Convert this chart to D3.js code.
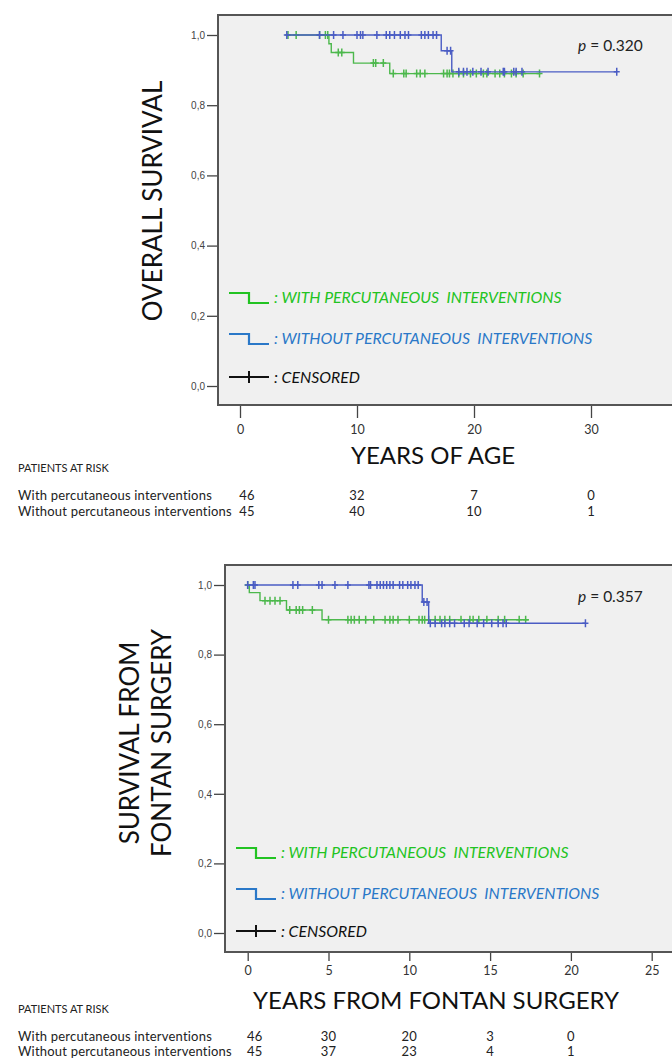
<!DOCTYPE html>
<html>
<head>
<meta charset="UTF-8">
<title>Survival curves</title>
<script src="https://cdn.jsdelivr.net/npm/d3@7"></script>
<style>
    body { margin: 0; background: #fff; }
    svg text { font-family: Lato, "Open Sans", sans-serif; }
    .ytick text { font-family: "Liberation Sans", Arial, sans-serif; font-size: 10px; fill: #444; }
    .xtick text { font-size: 12.5px; fill: #333; }
    .axis path { display: none; }
    .axis line { stroke: #444; stroke-width: 1.3px; }
    .curve { fill: none; stroke-width: 1.4px; }
    .legend-text { font-style: italic; font-size: 15.8px; white-space: pre; }
    .risk { font-size: 13px; fill: #222; letter-spacing: 0.2px; }
</style>
</head>
<body>
<svg id="chart" width="672" height="1062"></svg>
<script>
// ---- chart 1: years of age ----
const ageWithStepT = [4.0, 7.6, 7.8, 9.7, 12.8];
const ageWithStepS = [1.0, 0.975, 0.95, 0.92, 0.89];
const ageWithEnd = 25.7;
const ageWithCens = [4.1, 4.8, 6.8, 7.3, 7.5, 8.4, 8.7, 11.4, 11.6, 12.25, 13.1, 14.0, 14.2, 15.1, 15.4, 15.8,
    17.4, 17.7, 17.9, 18.2, 18.7, 19.1, 19.7, 20.2, 20.8, 21.1, 21.8, 22.2, 22.6, 23.2, 23.6, 24.2, 25.6];

const ageWithoutStepT = [4.0, 17.2, 18.1];
const ageWithoutStepS = [1.0, 0.955, 0.895];
const ageWithoutEnd = 32.2;
const ageWithoutCens = [4.0, 6.8, 8.0, 8.8, 10.0, 10.3, 10.5, 11.7, 12.5, 12.8, 13.2, 13.7, 14.1, 14.4, 15.5,
    15.8, 16.1, 16.5, 16.8, 17.7, 18.0, 18.7, 19.1, 19.4, 19.9, 20.6, 21.2, 22.5, 22.6, 23.4, 23.6, 24.1, 32.2];

const ageTicks = [0, 10, 20, 30];
const ageRiskWith = [46, 32, 7, 0];
const ageRiskWithout = [45, 40, 10, 1];

// ---- chart 2: years from fontan surgery ----
const fonWithStepT = [0, 0.1, 0.76, 2.4, 4.6];
const fonWithStepS = [1.0, 0.978, 0.955, 0.928, 0.90];
const fonWithEnd = 17.4;
const fonWithCens = [0.0, 1.07, 1.38, 1.69, 2.0, 2.6, 3.0, 3.2, 3.4, 4.0, 5.0, 6.2, 6.4, 6.6, 6.9, 7.3, 7.8, 8.5,
    8.8, 9.0, 9.3, 10.0, 10.6, 10.8, 10.95, 11.2, 11.6, 11.9, 12.2, 12.5, 13.2, 13.75, 13.95, 14.3, 14.8, 15.5,
    15.9, 16.8, 17.2];

const fonWithoutStepT = [0, 10.8, 11.2];
const fonWithoutStepS = [1.0, 0.951, 0.89];
const fonWithoutEnd = 20.9;
const fonWithoutCens = [0.0, 0.35, 0.45, 2.8, 3.1, 4.4, 4.6, 5.4, 6.2, 7.5, 7.6, 8.0, 8.2, 8.4, 8.6, 8.8, 9.0, 9.4,
    9.6, 9.9, 10.1, 10.35, 10.55, 10.9, 11.1, 11.3, 11.6, 12.0, 12.2, 12.5, 12.8, 13.4, 13.7, 14.2, 14.6, 15.1,
    15.5, 15.8, 16.0, 20.9];

const fonTicks = [0, 5, 10, 15, 20, 25];
const fonRiskWith = [46, 30, 20, 3, 0];
const fonRiskWithout = [45, 37, 23, 4, 1];

const yTicks = [0, 0.2, 0.4, 0.6, 0.8, 1.0];

const greenCurve = '#4cb84c';
const blueCurve = '#4a5cc4';
const greenText = '#22c322';
const blueText = '#2a78c8';

const svg = d3.select('#chart');

function stepValue(ts, ss, t) {
    let v = ss[0];
    ts.forEach((d, i) => { if (d <= t) v = ss[i]; });
    return v;
}

function stepPoints(ts, ss, end) {
    const pts = [];
    ts.forEach((t, i) => pts.push([t, ss[i]]));
    pts.push([end, ss[ss.length - 1]]);
    return pts;
}

function drawChart(c) {
    const g = svg.append('g');
    const x = d3.scaleLinear().domain([0, c.ticks[c.ticks.length - 1]]).range(c.xRange);
    const y = d3.scaleLinear().domain([0, 1]).range(c.yRange);

    // plot box
    g.append('rect')
        .attr('x', c.box[0]).attr('y', c.box[1])
        .attr('width', c.box[2] - c.box[0]).attr('height', c.box[3] - c.box[1])
        .attr('fill', '#f0f0f0')
        .attr('stroke', '#555')
        .attr('stroke-width', 2);

    g.append('g')
        .attr('class', 'axis ytick')
        .attr('transform', `translate(${c.box[0] - 1},0)`)
        .call(d3.axisLeft(y).tickValues(yTicks).tickSize(10).tickPadding(2)
            .tickFormat(d => d.toFixed(1).replace('.', ',')));

    g.append('g')
        .attr('class', 'axis xtick')
        .attr('transform', `translate(0,${c.box[3] + 1})`)
        .call(d3.axisBottom(x).tickValues(c.ticks).tickSize(c.xTickSize).tickPadding(c.xTickPad)
            .tickFormat(d3.format('d')));

    const line = d3.line()
        .x(d => x(d[0]))
        .y(d => y(d[1]))
        .curve(d3.curveStepAfter);

    c.series.forEach(s => {
        g.append('path')
            .attr('class', 'curve')
            .attr('stroke', s.color)
            .attr('d', line(stepPoints(s.t, s.s, s.end)));

        const cens = g.append('g').attr('stroke', s.color).attr('stroke-width', 1.5);
        cens.selectAll('.cv')
            .data(s.cens)
            .join('path')
            .attr('d', d => {
                const px = x(d), py = y(stepValue(s.t, s.s, d));
                return `M${px},${py - 4}V${py + 4}M${px - 3},${py}H${px + 3}`;
            });
    });

    // p value
    const p = g.append('text')
        .attr('x', 578).attr('y', c.pY)
        .attr('font-size', 15.5).attr('fill', '#222');
    p.append('tspan').attr('font-style', 'italic').text('p');
    p.append('tspan').text(' = ' + c.pValue);

    // legend
    const lx = c.legendX;
    const items = [
        { label: ': WITH PERCUTANEOUS  INTERVENTIONS', color: greenText, y: c.legendY[0] },
        { label: ': WITHOUT PERCUTANEOUS  INTERVENTIONS', color: blueText, y: c.legendY[1] },
        { label: ': CENSORED', color: '#111', y: c.legendY[2] }
    ];
    items.forEach((it, i) => {
        if (i < 2) {
            g.append('path')
                .attr('d', `M${lx},${it.y - 10}H${lx + 20}V${it.y}H${lx + 40}`)
                .attr('fill', 'none')
                .attr('stroke', it.color)
                .attr('stroke-width', 2.2);
        } else {
            g.append('path')
                .attr('d', `M${lx},${it.y - 6}H${lx + 40}M${lx + 20},${it.y - 12}V${it.y}`)
                .attr('fill', 'none')
                .attr('stroke', it.color)
                .attr('stroke-width', 2);
        }
        g.append('text')
            .attr('class', 'legend-text')
            .attr('x', lx + 45).attr('y', it.y)
            .attr('fill', it.color)
            .text(it.label);
    });

    // y title
    const yt = g.append('text')
        .attr('transform', `translate(${c.yTitleX},${c.yTitleY}) rotate(-90)`)
        .attr('text-anchor', 'middle')
        .attr('font-size', 26)
        .attr('fill', '#111');
    c.yTitle.forEach((t, i) => {
        yt.append('tspan').attr('x', 0).attr('dy', i === 0 ? 0 : 32).text(t);
    });

    // x title
    g.append('text')
        .attr('x', c.xTitleX).attr('y', c.xTitleY)
        .attr('text-anchor', 'middle')
        .attr('font-size', 24)
        .attr('fill', '#111')
        .text(c.xTitle);

    // patients at risk
    g.append('text')
        .attr('x', 18).attr('y', c.riskY[0])
        .attr('font-size', 11).attr('fill', '#222')
        .text('PATIENTS AT RISK');
    const rows = [
        { label: 'With percutaneous interventions', vals: c.riskWith, y: c.riskY[1] },
        { label: 'Without percutaneous interventions', vals: c.riskWithout, y: c.riskY[2] }
    ];
    rows.forEach(r => {
        g.append('text').attr('class', 'risk').attr('x', 18).attr('y', r.y).text(r.label);
        g.selectAll(null)
            .data(r.vals)
            .join('text')
            .attr('class', 'risk')
            .attr('x', (d, i) => i === 0 ? x(c.ticks[0]) + 7 : x(c.ticks[i]))
            .attr('y', r.y)
            .attr('text-anchor', 'middle')
            .text(d => d);
    });
}

drawChart({
    box: [218, 15, 690, 405],
    xRange: [240, 591],
    yRange: [386, 35],
    ticks: ageTicks,
    xTickSize: 12,
    xTickPad: 7,
    series: [
        { t: ageWithStepT, s: ageWithStepS, end: ageWithEnd, cens: ageWithCens, color: greenCurve },
        { t: ageWithoutStepT, s: ageWithoutStepS, end: ageWithoutEnd, cens: ageWithoutCens, color: blueCurve }
    ],
    pValue: '0.320',
    pY: 51,
    legendX: 229,
    legendY: [303, 344, 383],
    yTitle: ['OVERALL SURVIVAL'],
    yTitleX: 162,
    yTitleY: 201,
    xTitle: 'YEARS OF AGE',
    xTitleX: 433,
    xTitleY: 464,
    riskY: [472, 500, 516],
    riskWith: ageRiskWith,
    riskWithout: ageRiskWithout
});

drawChart({
    box: [225, 565, 690, 952],
    xRange: [247.7, 651.7],
    yRange: [933, 585],
    ticks: fonTicks,
    xTickSize: 8,
    xTickPad: 5,
    series: [
        { t: fonWithStepT, s: fonWithStepS, end: fonWithEnd, cens: fonWithCens, color: greenCurve },
        { t: fonWithoutStepT, s: fonWithoutStepS, end: fonWithoutEnd, cens: fonWithoutCens, color: blueCurve }
    ],
    pValue: '0.357',
    pY: 602,
    legendX: 236,
    legendY: [858, 899, 937],
    yTitle: ['SURVIVAL FROM', 'FONTAN SURGERY'],
    yTitleX: 139,
    yTitleY: 743,
    xTitle: 'YEARS FROM FONTAN SURGERY',
    xTitleX: 436,
    xTitleY: 1009,
    riskY: [1013, 1041, 1056],
    riskWith: fonRiskWith,
    riskWithout: fonRiskWithout
});
</script>
</body>
</html>
